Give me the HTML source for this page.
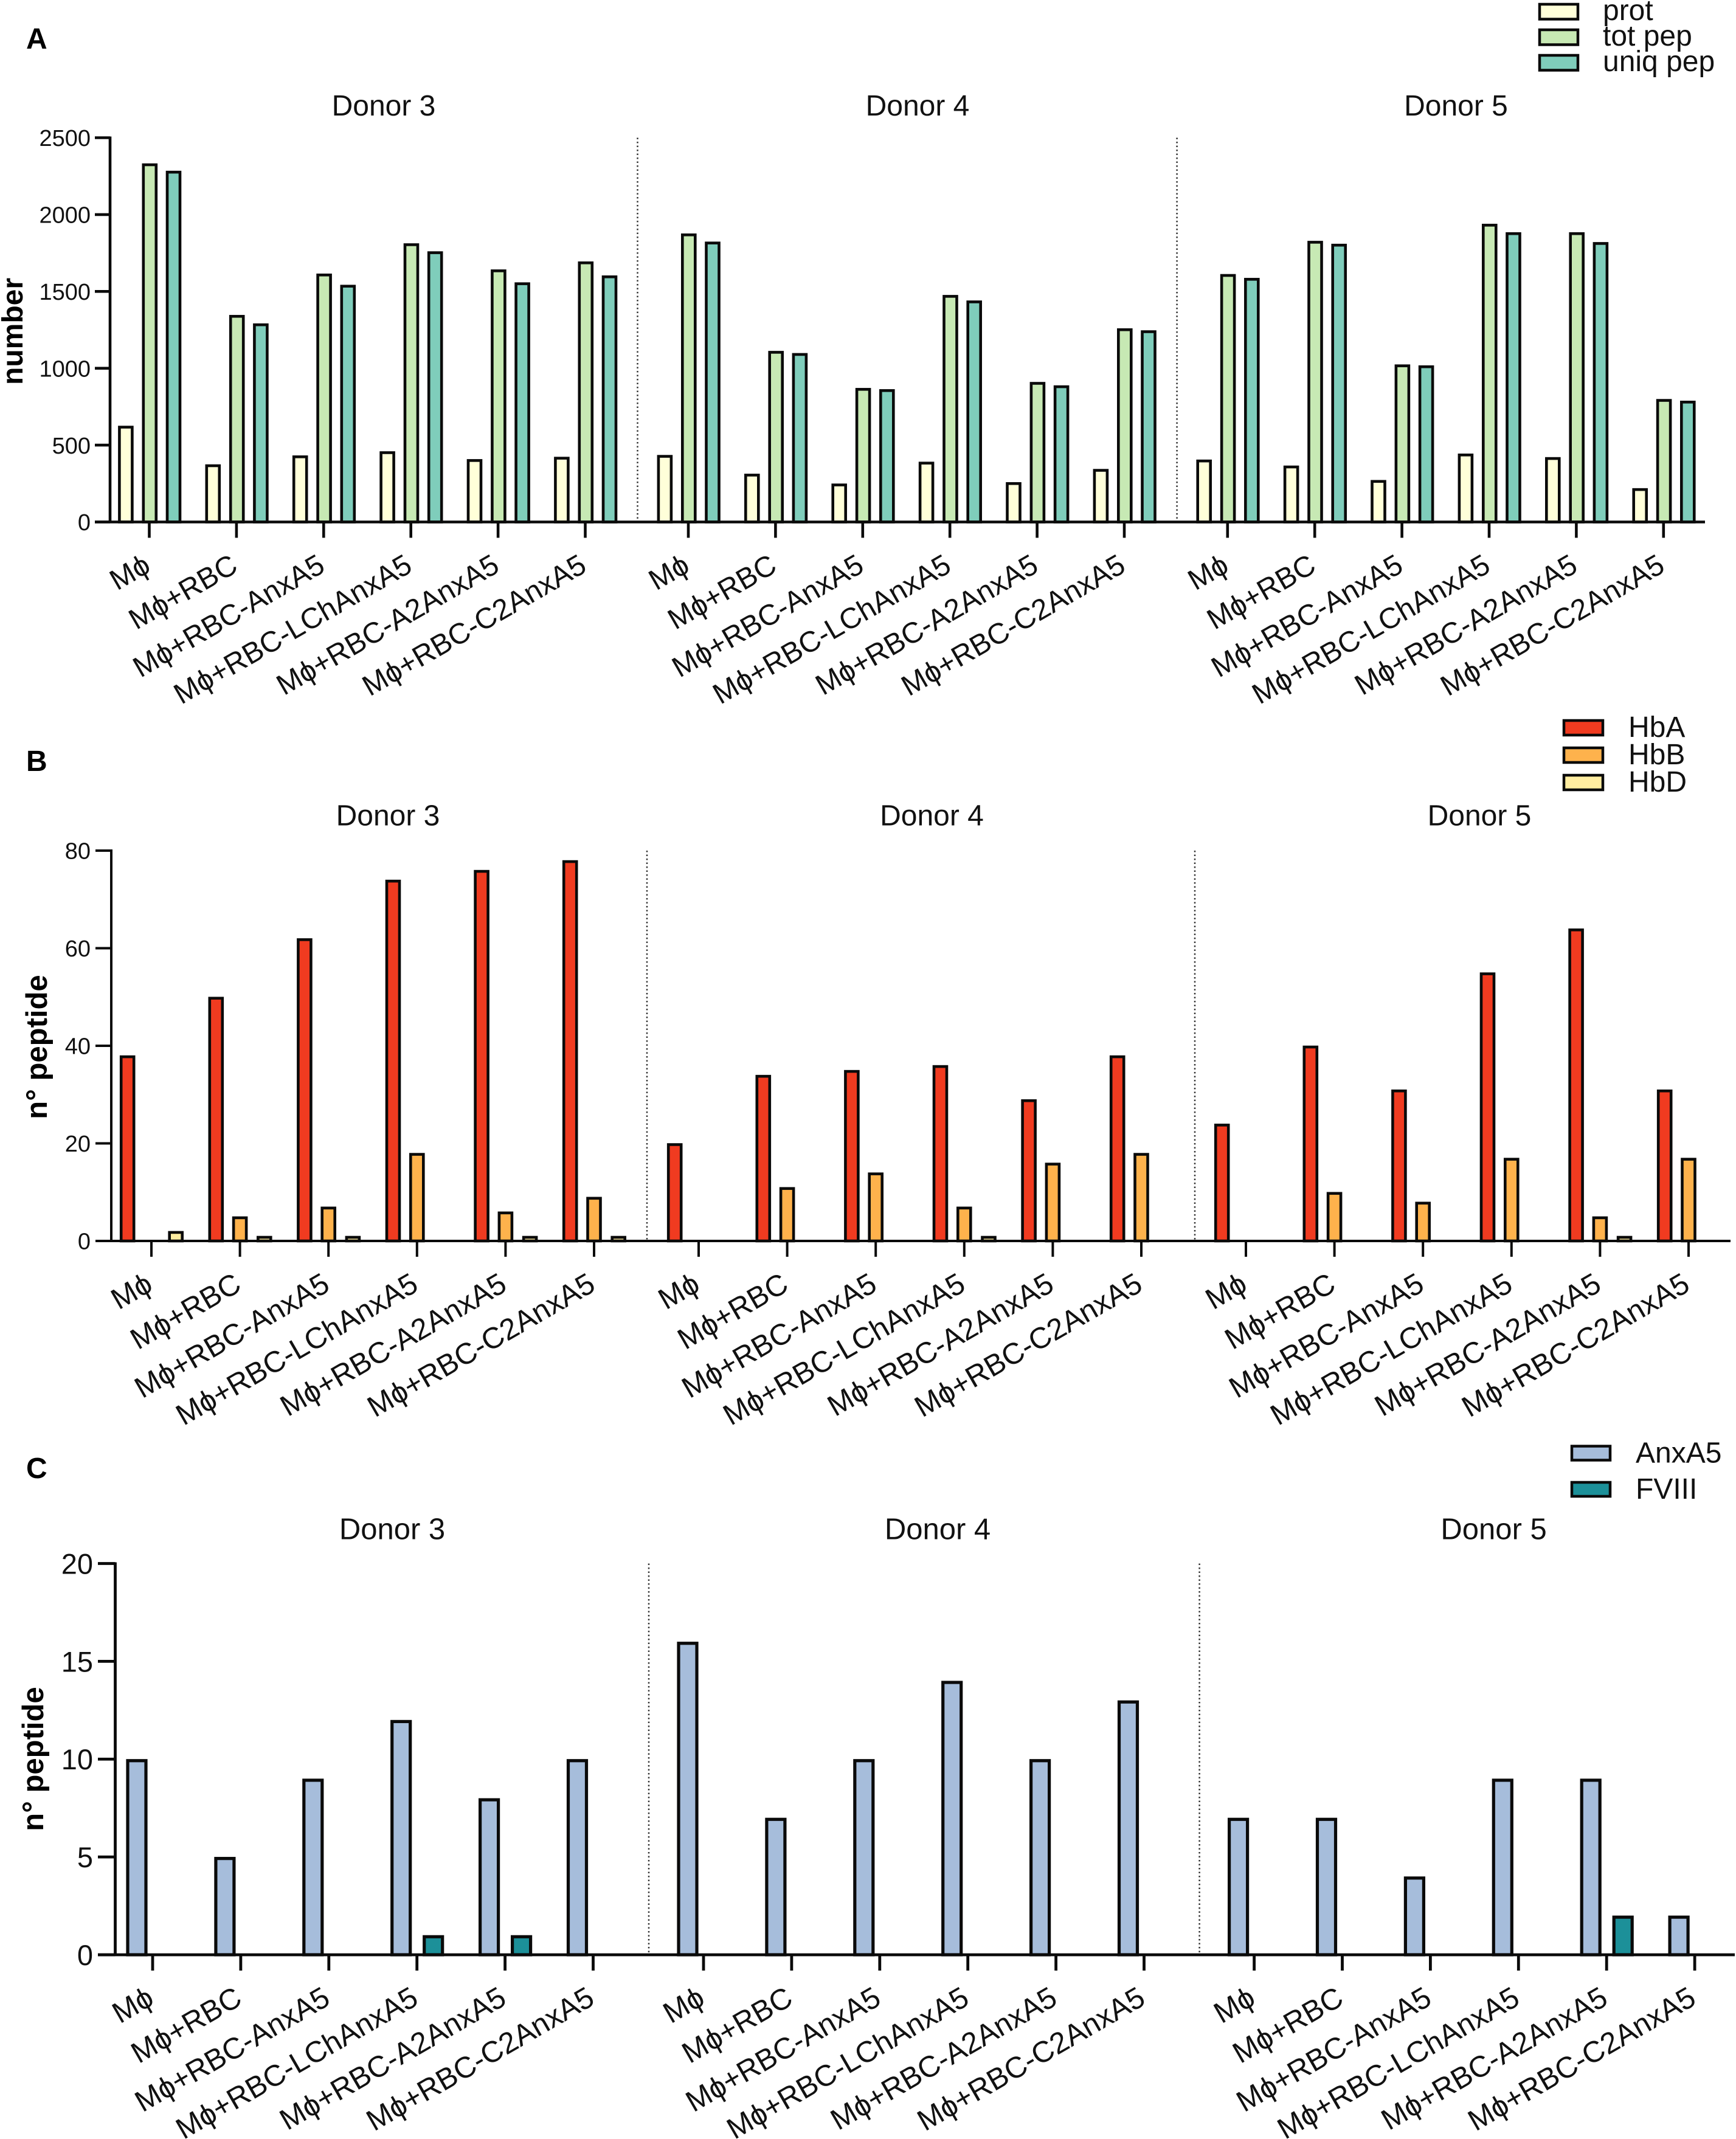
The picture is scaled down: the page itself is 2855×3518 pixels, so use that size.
<!DOCTYPE html>
<html lang="en">
<head>
<meta charset="utf-8">
<title>Peptide counts per donor and condition</title>
<style>
html,body{margin:0;padding:0;background:#fff;}
svg{display:block;font-family:"Liberation Sans","DejaVu Sans",sans-serif;fill:#111;}
</style>
</head>
<body>
<svg id="figure" xmlns="http://www.w3.org/2000/svg" width="2855" height="3518" viewBox="0 0 2855 3518">
<rect x="0" y="0" width="2855" height="3518" fill="#ffffff"/>
</svg>
<script>
const categories = ['M\u03D5','M\u03D5+RBC','M\u03D5+RBC-AnxA5','M\u03D5+RBC-LChAnxA5','M\u03D5+RBC-A2AnxA5','M\u03D5+RBC-C2AnxA5'];
const donors = ['Donor 3','Donor 4','Donor 5'];

const protCounts = [[617,366,424,451,400,415],[427,305,241,383,250,336],[397,358,264,436,413,211]];
const totPepCounts = [[2324,1338,1607,1804,1634,1686],[1868,1104,863,1468,902,1251],[1604,1820,1016,1931,1876,791]];
const uniqPepCounts = [[2276,1283,1534,1752,1550,1595],[1815,1090,855,1432,880,1238],[1579,1801,1010,1876,1812,780]];
const panelATicks = [0,500,1000,1500,2000,2500];

const hbaCounts = [[38,50,62,74,76,78],[20,34,35,36,29,38],[24,40,31,55,64,31]];
const hbbCounts = [[0,5,7,18,6,9],[0,11,14,7,16,18],[0,10,8,17,5,17]];
const hbdCounts = [[2,1,1,0,1,1],[0,0,0,1,0,0],[0,0,0,0,1,0]];
const panelBTicks = [0,20,40,60,80];

const anxa5Counts = [[10,5,9,12,8,10],[16,7,10,14,10,13],[7,7,4,9,9,2]];
const fviiiCounts = [[0,0,0,1,1,0],[0,0,0,0,0,0],[0,0,0,0,2,0]];
const panelCTicks = [0,5,10,15,20];

const panelASeries = [
  {name:'prot', values:protCounts, color:'#ffffd9'},
  {name:'tot pep', values:totPepCounts, color:'#c7e9b4'},
  {name:'uniq pep', values:uniqPepCounts, color:'#7fcdbb'}
];
const panelBSeries = [
  {name:'HbA', values:hbaCounts, color:'#f03b20'},
  {name:'HbB', values:hbbCounts, color:'#feb24c'},
  {name:'HbD', values:hbdCounts, color:'#ffeda0'}
];
const panelCSeries = [
  {name:'AnxA5', values:anxa5Counts, color:'#a6bddb'},
  {name:'FVIII', values:fviiiCounts, color:'#1c9099'}
];

const NS = 'http://www.w3.org/2000/svg';
const root = document.getElementById('figure');

function mk(tag, attrs, parent, text) {
  const el = document.createElementNS(NS, tag);
  for (const k in attrs) el.setAttribute(k, attrs[k]);
  if (text !== undefined) el.textContent = text;
  parent.appendChild(el);
  return el;
}

function slug(s) {
  return String(s).toLowerCase().replace(/[^a-z0-9]+/g, '-').replace(/^-|-$/g, '');
}

function drawPanel(p) {
  const g = mk('g', {}, root);
  
  

  const yScale = v => p.zero - (v / p.max) * (p.zero - p.top);
  const xScale = (d, i) => p.groupStarts[d] + i * p.step;

  const letter = mk('text', {x:43, y:p.letterY, 'font-size':48, 'font-weight':'bold', fill:'#000'}, g, p.id);
  
  

  const yTitle = mk('text', {transform:'translate(' + p.yTitleX + ',' + p.yTitleY + ') rotate(-90)', 'text-anchor':'middle', 'font-size':p.yTitleSize, 'font-weight':'bold', fill:'#000'}, g, p.yTitle);
  
  

  donors.forEach(function (name, d) {
    const t = mk('text', {x:p.titleX[d], y:p.titleY, 'text-anchor':'middle', 'font-size':p.titleSize}, g, name);
    
    
  });

  p.dividers.forEach(function (x, n) {
    const line = mk('line', {x1:x, x2:x, y1:p.top, y2:p.zero, stroke:'#333', 'stroke-width':2.5, 'stroke-dasharray':'2.5 4'}, g);
    
    
  });

  p.series.forEach(function (s, si) {
    s.values.forEach(function (vals, d) {
      vals.forEach(function (v, i) {
        const c = xScale(d, i) + p.offsets[si];
        const y = Math.min(p.zero, yScale(v) + p.barInset);
        const bar = mk('rect', {x:c - p.barW / 2, y:y, width:p.barW, height:p.zero - y, fill:s.color, stroke:'#0a0a0a', 'stroke-width':p.barStroke}, g);
        
        
      });
    });
  });

  const yAxis = mk('line', {x1:p.axisX, x2:p.axisX, y1:p.top - 2, y2:p.zero, stroke:'#0a0a0a', 'stroke-width':p.axisStroke}, g);
  
  

  const xAxis = mk('line', {x1:p.tickLeft, x2:p.xEnd, y1:p.zero, y2:p.zero, stroke:'#0a0a0a', 'stroke-width':p.axisStroke}, g);
  
  

  p.ticks.forEach(function (v) {
    const y = yScale(v);
    const tick = mk('line', {x1:p.tickLeft, x2:p.axisX, y1:y, y2:y, stroke:'#0a0a0a', 'stroke-width':p.axisStroke}, g);
    
    
    const label = mk('text', {x:p.tickTextX, y:y + p.tickFont * 0.36, 'text-anchor':'end', 'font-size':p.tickFont}, g, v);
    
    
  });

  donors.forEach(function (name, d) {
    categories.forEach(function (cat, i) {
      const x = xScale(d, i);
      const tick = mk('line', {x1:x, x2:x, y1:p.zero, y2:p.zero + 26, stroke:'#0a0a0a', 'stroke-width':p.axisStroke}, g);
      
      
      const label = mk('text', {transform:'translate(' + (x + 5) + ',' + (p.zero + 80) + ') rotate(-30)', 'text-anchor':'end', 'font-size':p.catFont}, g, cat);
      
      
    });
  });

  const lg = mk('g', {}, g);
  
  
  p.series.forEach(function (s, si) {
    const top = p.legend.y + si * p.legend.gap;
    const sw = mk('rect', {x:p.legend.x, y:top, width:p.legend.w, height:p.legend.h, fill:s.color, stroke:'#0a0a0a', 'stroke-width':p.legend.stroke}, lg);
    
    
    const txt = mk('text', {x:p.legend.textX, y:top + p.legend.textDy, 'font-size':48}, lg, s.name);
    
    
  });
}

drawPanel({
  id:'A', series:panelASeries, ticks:panelATicks, max:2500,
  top:226.5, zero:858.5, axisX:181, tickLeft:156, xEnd:2804, tickTextX:149, tickFont:38,
  groupStarts:[245.5,1132,2018.8], step:143.4, offsets:[-38.6,0.8,40],
  barW:21, barStroke:4.6, barInset:0, axisStroke:4.6, catFont:48,
  dividers:[1048.5,1935.6],
  titleX:[631,1509,2394.5], titleY:190, titleSize:48,
  letterY:80, yTitle:'number', yTitleX:37, yTitleY:545, yTitleSize:48,
  legend:{x:2532,y:7,w:63,h:24.5,gap:42,stroke:4.5,textX:2636,textDy:26}
});

drawPanel({
  id:'B', series:panelBSeries, ticks:panelBTicks, max:80,
  top:1399, zero:2041, axisX:183, tickLeft:157, xEnd:2846, tickTextX:149, tickFont:38,
  groupStarts:[249,1149,2049], step:145.6, offsets:[-39.3,0,40.2],
  barW:21, barStroke:4.6, barInset:2, axisStroke:4, catFont:48.8,
  dividers:[1064,1965],
  titleX:[638,1532.5,2433], titleY:1357.5, titleSize:48,
  letterY:1268, yTitle:'n\u00B0 peptide', yTitleX:77, yTitleY:1722, yTitleSize:49,
  legend:{x:2572,y:1185,w:64,h:24,gap:45,stroke:4.5,textX:2678,textDy:27}
});

drawPanel({
  id:'C', series:panelCSeries, ticks:panelCTicks, max:20,
  top:2571.5, zero:3215, axisX:189.5, tickLeft:161, xEnd:2853, tickTextX:153, tickFont:47,
  groupStarts:[251,1157,2062.6], step:144.9, offsets:[-26,27],
  barW:30, barStroke:5.2, barInset:2.5, axisStroke:4.8, catFont:48.8,
  dividers:[1067,1972.6],
  titleX:[645,1542,2456.6], titleY:2531.5, titleSize:49,
  letterY:2431, yTitle:'n\u00B0 peptide', yTitleX:71, yTitleY:2893, yTitleSize:49,
  legend:{x:2585,y:2378.5,w:63,h:23,gap:59.5,stroke:4.5,textX:2690,textDy:27}
});
</script>
</body>
</html>
